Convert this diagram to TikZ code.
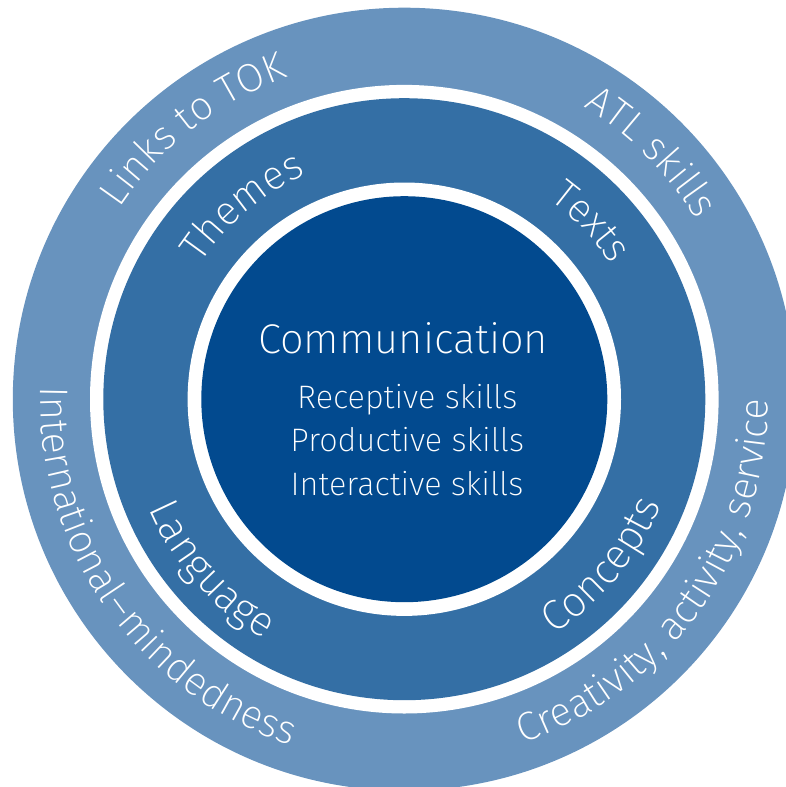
\documentclass[tikz,border=0pt]{standalone}
\usepackage{fontspec}
\setmainfont{Fira Sans ExtraLight}
\usetikzlibrary{decorations.text,calc}
\definecolor{outerc}{RGB}{104,147,190}
\definecolor{midc}{RGB}{52,111,165}
\definecolor{innerc}{RGB}{2,74,143}
% clockwise arc text (tops outward): center angle, baseline radius, size, text
\newcommand\cwarc[4]{%
  \path[decorate,decoration={text along path,text align=center,
    text={|\fontsize{#3}{#3}\selectfont\color{white}|#4}}]
    ($(C)+({#1+80}:#2)$) arc[start angle={#1+80},end angle={#1-80},radius=#2];}
% counter-clockwise arc text (tops inward)
\newcommand\ccwarc[4]{%
  \path[decorate,decoration={text along path,text align=center,
    text={|\fontsize{#3}{#3}\selectfont\color{white}|#4}}]
    ($(C)+({#1-80}:#2)$) arc[start angle={#1-80},end angle={#1+80},radius=#2];}
\begin{document}
\begin{tikzpicture}[x=1pt,y=1pt,
  centertext/.style={text=white,anchor=base,inner sep=0pt}]
\useasboundingbox (0,0) rectangle (786,-787);
\clip (0,0) rectangle (786,-787);
\coordinate (C) at (404.3,-399.2);
\fill[outerc] (C) circle[radius=391.5];
\fill[white] (C) circle[radius=314.3];
\fill[midc] (C) circle[radius=301];
\fill[white] (C) circle[radius=216.7];
\fill[innerc] (C) circle[radius=203];
\node[centertext,font=\fontsize{41.6}{41.6}\selectfont] (comm) at (403.3,-353.5) {Communication};
\node[centertext,font=\fontsize{32.5}{32.5}\selectfont] (rec) at (407.3,-408) {Receptive skills};
\node[centertext,font=\fontsize{32.5}{32.5}\selectfont] (prod) at (407.3,-451.5) {Productive skills};
\node[centertext,font=\fontsize{32.5}{32.5}\selectfont] (inter) at (407,-495) {Interactive skills};
\cwarc{128}{343}{40}{Links to TOK}
\cwarc{45}{343}{40}{ATL skills}
\ccwarc{215}{364}{40}{International–mindedness}
\ccwarc{-35.5}{364}{40}{Creativity, activity, service}
\cwarc{130}{245}{40.5}{Themes}
\cwarc{43.5}{247}{40}{Texts}
\ccwarc{221.5}{278}{42}{Language}
\ccwarc{-40}{278}{42}{Concepts}
\end{tikzpicture}
\end{document}
